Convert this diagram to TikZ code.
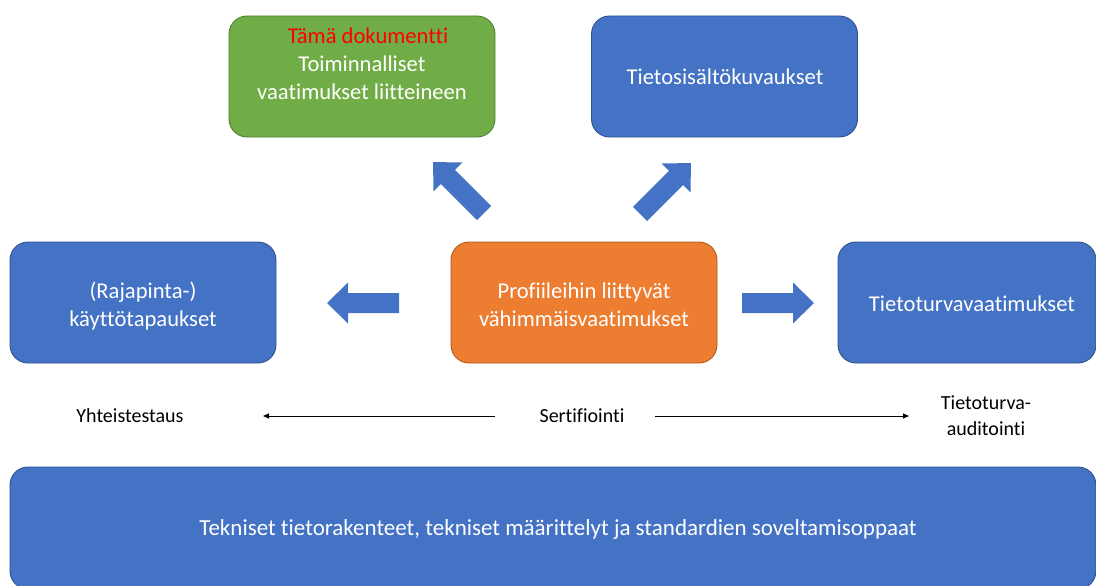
\documentclass[tikz,border=0pt]{standalone}
\usepackage{fontspec}
\setmainfont{Carlito}[Ligatures={NoCommon,NoRare,NoContextual}]
\usetikzlibrary{arrows.meta}
\definecolor{blu}{HTML}{4472C4}
\definecolor{bluD}{HTML}{2F528F}
\definecolor{grn}{HTML}{70AD47}
\definecolor{grnD}{HTML}{507E32}
\definecolor{org}{HTML}{ED7D31}
\definecolor{orgD}{HTML}{AE5A21}
\definecolor{redtxt}{HTML}{FF0000}
\tikzset{
  box/.style={rounded corners=18pt, line width=0.9pt, minimum width=266pt, minimum height=121pt, inner sep=0pt, outer sep=0pt},
  bluebox/.style={box, fill=blu, draw=bluD},
  greenbox/.style={box, fill=grn, draw=grnD},
  orangebox/.style={box, fill=org, draw=orgD},
  boxtext/.style={text=white, align=center, font=\fontsize{22.6}{28}\selectfont, inner sep=0pt},
  lowtext/.style={text=black, align=center, font=\fontsize{20}{26}\selectfont, inner sep=0pt},
  blockarrow/.style={fill=blu, draw=none},
  thinarrow/.style={line width=0.8pt, -{Triangle[length=6pt,width=5pt]}}
}
\begin{document}
\begin{tikzpicture}[x=1pt,y=-1pt]
\useasboundingbox (0,0) rectangle (1096,586);
\clip (0,0) rectangle (1096,586);
% boxes
\node[greenbox] (func) at (362,76.5) {};
\node[boxtext, anchor=center] (functext) at (362,64) {\textcolor{redtxt}{\hspace*{12pt}Tämä dokumentti}\\Toiminnalliset\\vaatimukset liitteineen};
\node[bluebox] (info) at (724.5,76.5) {};
\node[boxtext] (infotext) at (725,77) {Tietosisältökuvaukset};
\node[bluebox] (use) at (143,302.5) {};
\node[boxtext] (usetext) at (143,306) {(Rajapinta-)\\käyttötapaukset};
\node[orangebox] (prof) at (584,302.5) {};
\node[boxtext] (proftext) at (584,305) {Profiileihin liittyvät\\vähimmäisvaatimukset};
\node[bluebox, minimum width=258pt] (sec) at (967,302.5) {};
\node[boxtext] (sectext) at (972,304) {Tietoturvavaatimukset};
\node[bluebox, minimum width=1086pt, minimum height=122pt] (tech) at (553,528) {};
\node[boxtext, font=\fontsize{23}{26}\selectfont] (techtext) at (558,529) {Tekniset tietorakenteet, tekniset määrittelyt ja standardien soveltamisoppaat};
% block arrows
\foreach \sx/\sy/\ang in {399/303/180, 742/303/0, 484/213/135, 640/214/45}{
  \fill[blockarrow, shift={(\sx,\sy)}, rotate=\ang]
    (0,-10) -- (51,-10) -- (51,-20.5) -- (72,0) -- (51,20.5) -- (51,10) -- (0,10) -- cycle;
}
% lower labels
\node[lowtext] (yht) at (130,416) {Yhteistestaus};
\node[lowtext] (sert) at (582,416) {Sertifiointi};
\node[lowtext] (audit) at (986,416) {Tietoturva-\\auditointi};
\coordinate (lt) at (495,416);
\coordinate (lh) at (263,416);
\coordinate (rt) at (655,416);
\coordinate (rh) at (909,416);
\draw[thinarrow] (lt) -- (lh);
\draw[thinarrow] (rt) -- (rh);
\end{tikzpicture}
\end{document}
